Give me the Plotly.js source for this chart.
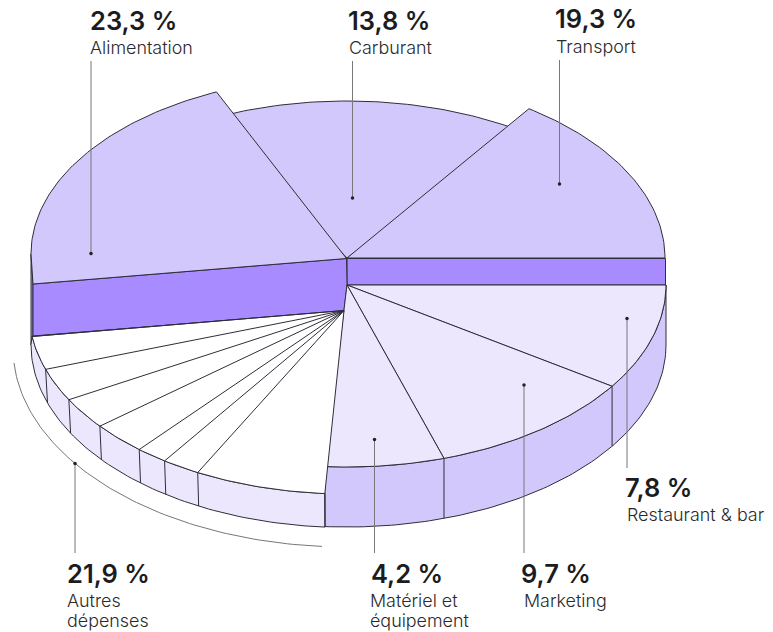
<!DOCTYPE html>
<html><head><meta charset="utf-8">
<script src="https://cdn.plot.ly/plotly-3.0.1.min.js"></script>
<style>html,body{margin:0;padding:0;background:#fff}#c{width:773px;height:632px}</style></head>
<body><div id="c"></div>
<script>
// Data
const categories = ["Alimentation","Carburant","Transport","Restaurant & bar","Marketing","Matériel et<br>équipement","Autres<br>dépenses"];
const values = [23.3,13.8,19.3,7.8,9.7,4.2,21.9];
const valueLabels = values.map(v => v.toFixed(1).replace(".", ",") + " %");
// Drawn wedge boundaries, in degrees round the ellipse
const alimentationSpan = [-114.4,-180];
const carburantSpan = [-115,-57];
const transportSpan = [-55.1,0];
const restaurantSpan = [0,33.8];
const marketingSpan = [33.8,72.3];
const materielSpan = [72.3,94];
const autresEdges = [94,118,125,130.8,141,151,161.4,172];

const LINE = "#2e2e3a", C_MID = "#D3C8FB", C_DARK = "#A78BFF", C_PALE = "#ECE7FD";
const traces = [];
function arc(cx,cy,rx,ry,a0,a1){
  const n = Math.max(2,Math.ceil(Math.abs(a1-a0))), pts=[];
  for(let i=0;i<=n;i++){const t=(a0+(a1-a0)*i/n)*Math.PI/180;pts.push([cx+rx*Math.cos(t),cy+ry*Math.sin(t)]);}
  return pts;
}
function poly(pts,fill,w){
  const closed = fill ? pts.concat([pts[0]]) : pts;
  traces.push({type:"scatter",mode:"lines",x:closed.map(p=>p[0]),y:closed.map(p=>p[1]),
    fill:fill?"toself":"none",fillcolor:fill||undefined,
    line:{color:w&&w.color||LINE,width:w&&w.width||1},hoverinfo:"skip",showlegend:false});
}
const CX=347;
// upper slices
poly([[CX,258]].concat(arc(CX,285,318,184,carburantSpan[0],carburantSpan[1])),C_MID);
poly([[CX,258]].concat(arc(CX,258,318,182,transportSpan[0],transportSpan[1])),C_MID);
// dark rims
poly([[CX,258.5],[665.5,258.5],[665.5,285],[CX,285]],C_DARK);
poly([[31,254],[33,284],[33,336],[31,345]],C_DARK);
poly([[346.5,258.5],[33,284],[33,336],[344,311],[CX,285]],C_DARK);
poly([[346.5,258.5]].concat(arc(CX,254,316,178,alimentationSpan[0],alimentationSpan[1])).concat([[33,284]]),C_MID);
// lower right side wall
poly(arc(CX,285,319,182,0,94).concat(arc(CX,345,319,182,94,0)),C_MID);
[restaurantSpan[1],marketingSpan[1]].forEach(a=>{
  const t=arc(CX,285,319,182,a,a+1)[0], b=arc(CX,345,319,182,a,a+1)[0];
  poly([t,b],null);
});
// lower-right top faces
[restaurantSpan,marketingSpan,materielSpan].forEach(s=>{
  poly([[CX,285]].concat(arc(CX,285,319,182,s[0],s[1])),C_PALE);
});
// "Autres" group: wall + white faces + spokes
const first=autresEdges[0], last=autresEdges[autresEdges.length-1];
poly(arc(CX,311,318,183,first,last).concat(arc(CX,344.5,316,183,180,first)),C_PALE);
poly([[344,310.5]].concat(arc(CX,311,318,183,first,last)),"#FFFFFF");
autresEdges.forEach(a=>{
  const t=arc(CX,311,318,183,a,a+1)[0], b=arc(CX,344.5,316,183,a,a+1)[0];
  if(a!==last) poly([t,b],null);
  if(a!==first) poly([[344,310.5],t],null);
});
// bracket under "Autres"
poly(arc(CX,348,334,199,94.3,175.7),null,{color:"#777",width:1});
// leaders: x, y of the anchor dot, y of the free end
const leaderX=[91,352.5,559.5,627,524,374.5,75];
const leaderDot=[253.5,198,184,318.5,385,439.5,463.5];
const leaderEnd=[61,61,60,468,553,553,553];
leaderX.forEach((x,i)=>{
  poly([[x,leaderDot[i]],[x,leaderEnd[i]]],null,{color:"#77777c",width:1});
});
traces.push({type:"scatter",mode:"markers",x:leaderX,y:leaderDot,marker:{size:3.5,color:"#222"},hoverinfo:"skip",showlegend:false});

const valueX=[88,346,553,623,519,369,65];
const valueY=[20,20,18,487,573,573,573];
const nameX=[88,347,554,625,522,368,65];
const nameY=[47.5,47.5,46.5,514.5,600.5,600.5,600.5];
const LINE_GAP=20;
const annotations=[];
categories.forEach((c,i)=>{
  annotations.push({x:valueX[i],y:valueY[i],text:valueLabels[i],showarrow:false,xanchor:"left",yanchor:"middle",
    font:{family:"Inter",size:25.5,color:"#1c1c1e",weight:600}});
  c.split("<br>").forEach((part,j)=>{
    annotations.push({x:nameX[i],y:nameY[i]+j*LINE_GAP,text:part,showarrow:false,xanchor:"left",yanchor:"middle",align:"left",
      font:{family:"Inter",size:17.9,color:"#2a2a2c",weight:300}});
  });
});
Plotly.newPlot("c",traces,{
  width:773,height:632,margin:{l:0,r:0,t:0,b:0},paper_bgcolor:"#fff",plot_bgcolor:"#fff",
  xaxis:{range:[0,773],visible:false,fixedrange:true},
  yaxis:{range:[632,0],visible:false,fixedrange:true},
  annotations:annotations,showlegend:false
},{displayModeBar:false,staticPlot:true});
</script></body></html>
